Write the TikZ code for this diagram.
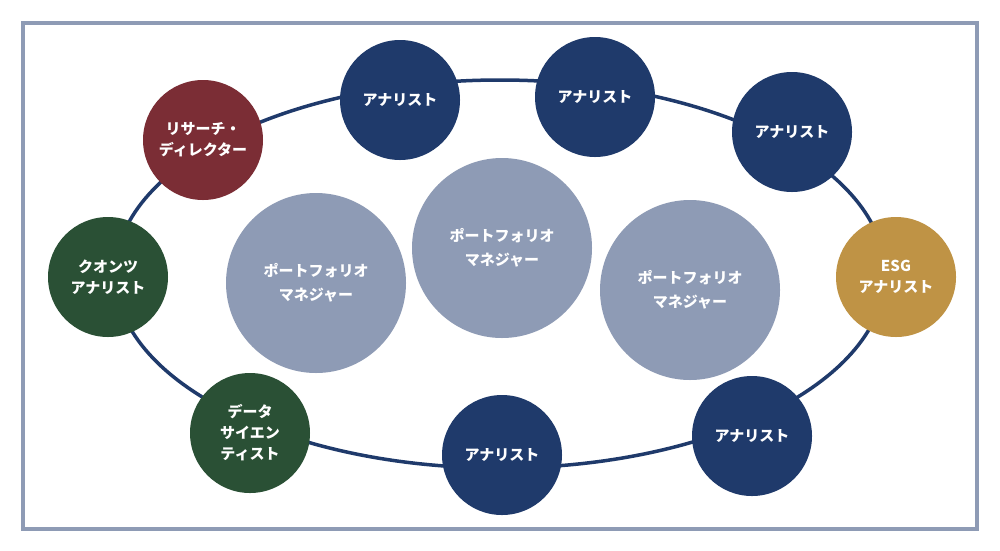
\documentclass[tikz,border=0pt]{standalone}
\usepackage{fontspec}
\setmainfont{Noto Sans CJK JP}
\definecolor{navy}{HTML}{1F3A6B}
\definecolor{frame}{HTML}{8E9BB5}
\definecolor{pm}{HTML}{8E9BB5}
\definecolor{gold}{HTML}{BF9345}
\definecolor{grn}{HTML}{2A5035}
\definecolor{maroon}{HTML}{7B2D35}
\tikzset{
  role/.style={circle,minimum size=120pt,inner sep=0pt,text=white,font=\fontsize{15}{21}\selectfont\bfseries,align=center},
  mgr/.style={circle,fill=pm,minimum size=180pt,inner sep=0pt,text=white,font=\fontsize{15}{24}\selectfont\bfseries,align=center}
}
\begin{document}
\begin{tikzpicture}[x=1pt,y=-1pt]
\useasboundingbox (0,0) rectangle (1000,550);
\fill[white] (0,0) rectangle (1000,550);
\draw[frame,line width=4pt] (23,23) rectangle (977,529);
\draw[navy,line width=3.5pt] (500,274) ellipse [x radius=385pt, y radius=194pt];
\node[mgr] (m1) at (316,283) {ポートフォリオ\\マネジャー};
\node[mgr] (m2) at (502,248) {ポートフォリオ\\マネジャー};
\node[mgr] (m3) at (690,290) {ポートフォリオ\\マネジャー};
\node[role,fill=navy] (a1) at (400,100) {アナリスト};
\node[role,fill=navy] (a2) at (595,97) {アナリスト};
\node[role,fill=navy] (a3) at (792,132) {アナリスト};
\node[role,fill=gold] (esg) at (896,277) {ESG\\アナリスト};
\node[role,fill=navy] (a4) at (752,436) {アナリスト};
\node[role,fill=navy] (a5) at (502,455) {アナリスト};
\node[role,fill=grn] (ds) at (250,433) {データ\\サイエン\\ティスト};
\node[role,fill=grn] (q) at (108,277) {クオンツ\\アナリスト};
\node[role,fill=maroon] (rd) at (203,140) {リサーチ・\\ディレクター};
\end{tikzpicture}
\end{document}
